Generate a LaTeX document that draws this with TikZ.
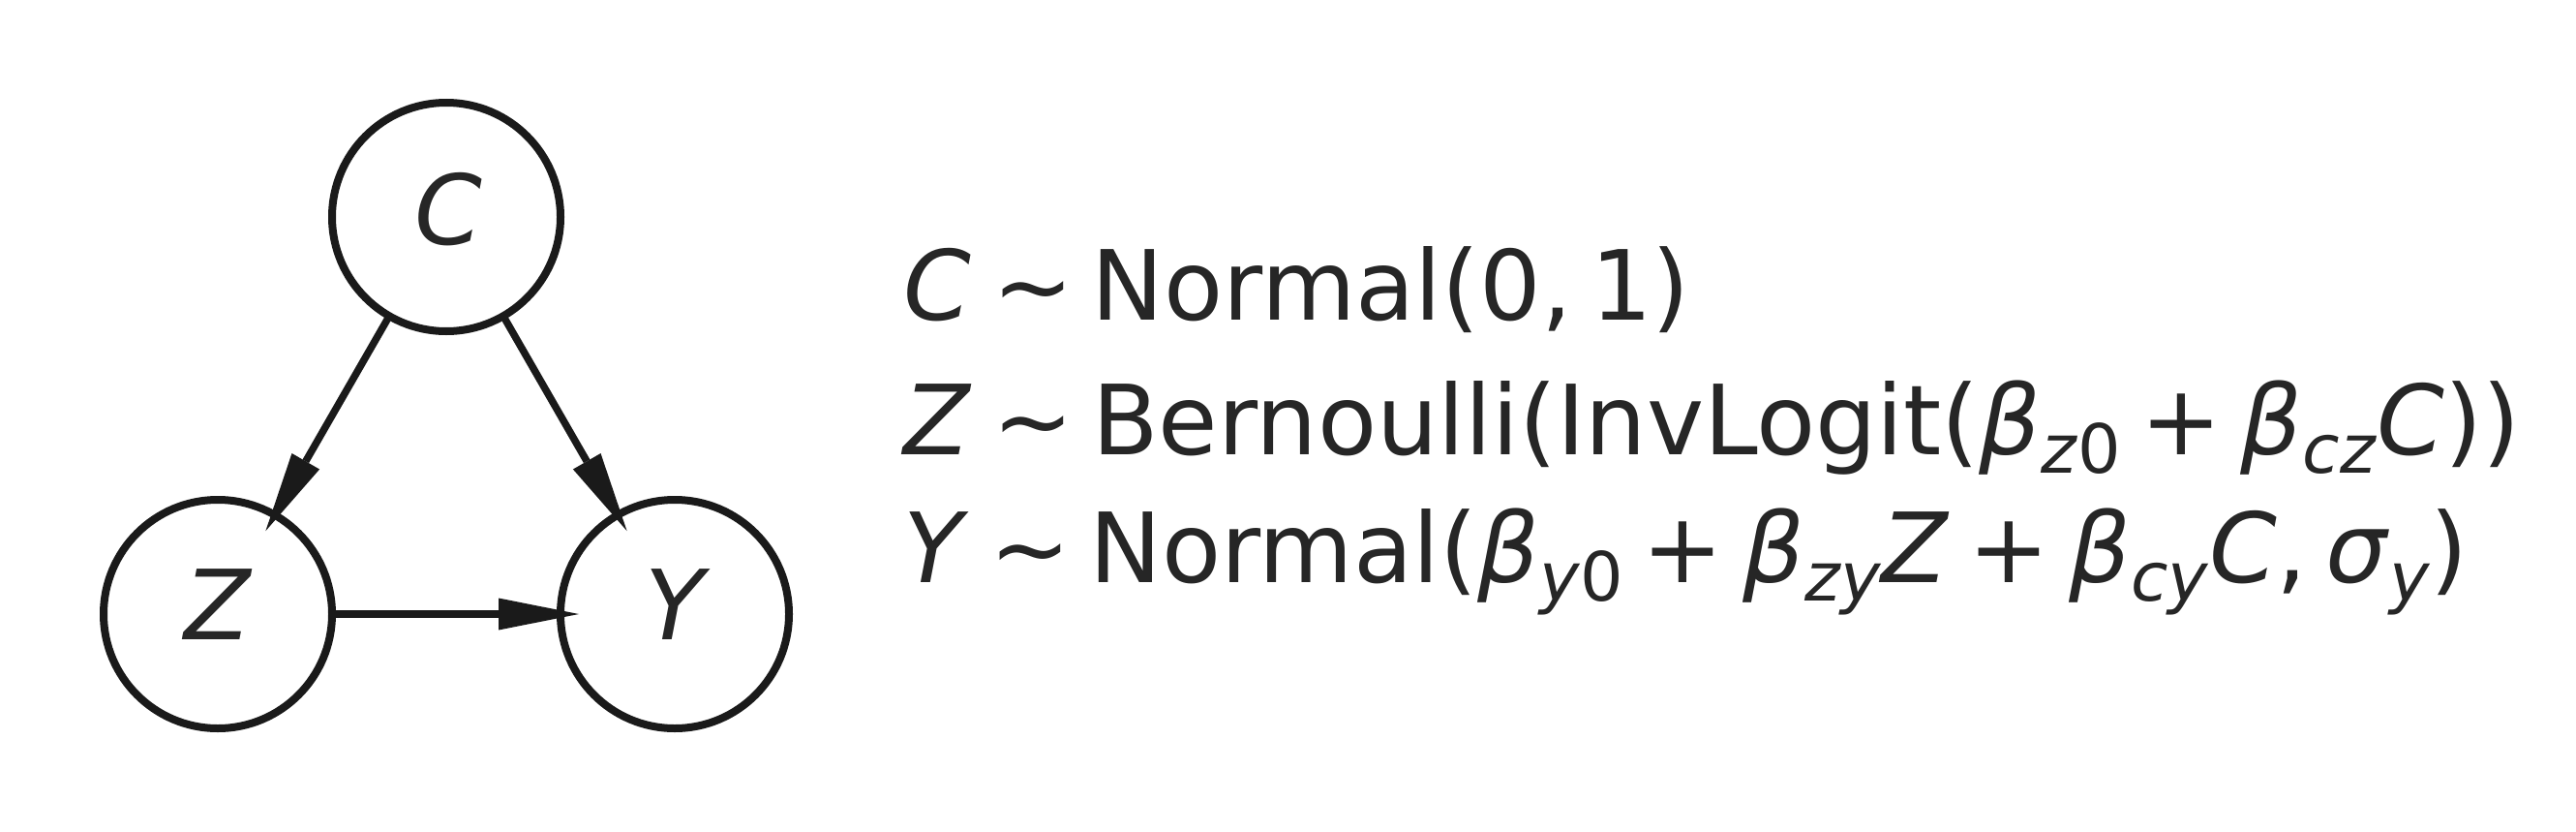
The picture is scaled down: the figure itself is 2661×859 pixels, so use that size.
\documentclass[tikz,border=0pt]{standalone}
\usepackage{fontspec}
\setmainfont{DejaVu Sans}
\usetikzlibrary{arrows.meta}
\definecolor{ink}{HTML}{262626}
\definecolor{edgec}{HTML}{1A1A1A}
\newcommand\mv[1]{\textit{#1}}
\newcommand\sbx[1]{\raisebox{-19pt}{\fontsize{70}{70}\selectfont #1}}
\newcommand\rel{\kern22pt∼\kern19pt}
\newcommand\bin{\kern20pt+\kern20pt}
\tikzset{
  var/.style={circle, draw=edgec, line width=8pt, minimum size=236pt, inner sep=0pt, outer sep=0pt},
  varlabel/.style={anchor=base, inner sep=0pt, text=ink, font=\fontsize{100}{120}\selectfont\itshape},
  eqn/.style={anchor=base west, inner sep=0pt, text=ink, font=\fontsize{100}{120}\selectfont},
  arr/.style={draw=edgec, line width=7.5pt, -{Triangle[length=83pt,width=33pt,line width=0pt]}, shorten >=-19pt}
}
\begin{document}
\begin{tikzpicture}[x=1pt,y=-1pt]
\useasboundingbox (0,0) rectangle (2661,859);
\node[var] (C) at (461,224) {};
\node[var] (Z) at (225,634) {};
\node[var] (Y) at (697,634) {};
\node[varlabel] (lc) at (463,252) {C};
\node[varlabel] (lz) at (225,660) {Z};
\node[varlabel] (ly) at (697,660) {Y};
\draw[arr] (C) -- (Z);
\draw[arr] (C) -- (Y);
\draw[arr] (Z) -- (Y);
\node[eqn] (e1) at (933,330) {\mv{C}\rel Normal(0,\kern19pt1)};
\node[eqn] (e2) at (933,469) {\mv{Z}\rel Bernoulli(InvLogit(\mv{β}\sbx{\mv{z}0}\bin\mv{β}\sbx{\mv{cz}}\mv{C}))};
\node[eqn] (e3) at (933,601) {\mv{Y}\rel Normal(\mv{β}\sbx{\mv{y}0}\bin\mv{β}\sbx{\mv{zy}}\mv{Z}\bin\mv{β}\sbx{\mv{cy}}\mv{C},\kern19pt\mv{σ}\sbx{\mv{y}})};
\end{tikzpicture}
\end{document}
